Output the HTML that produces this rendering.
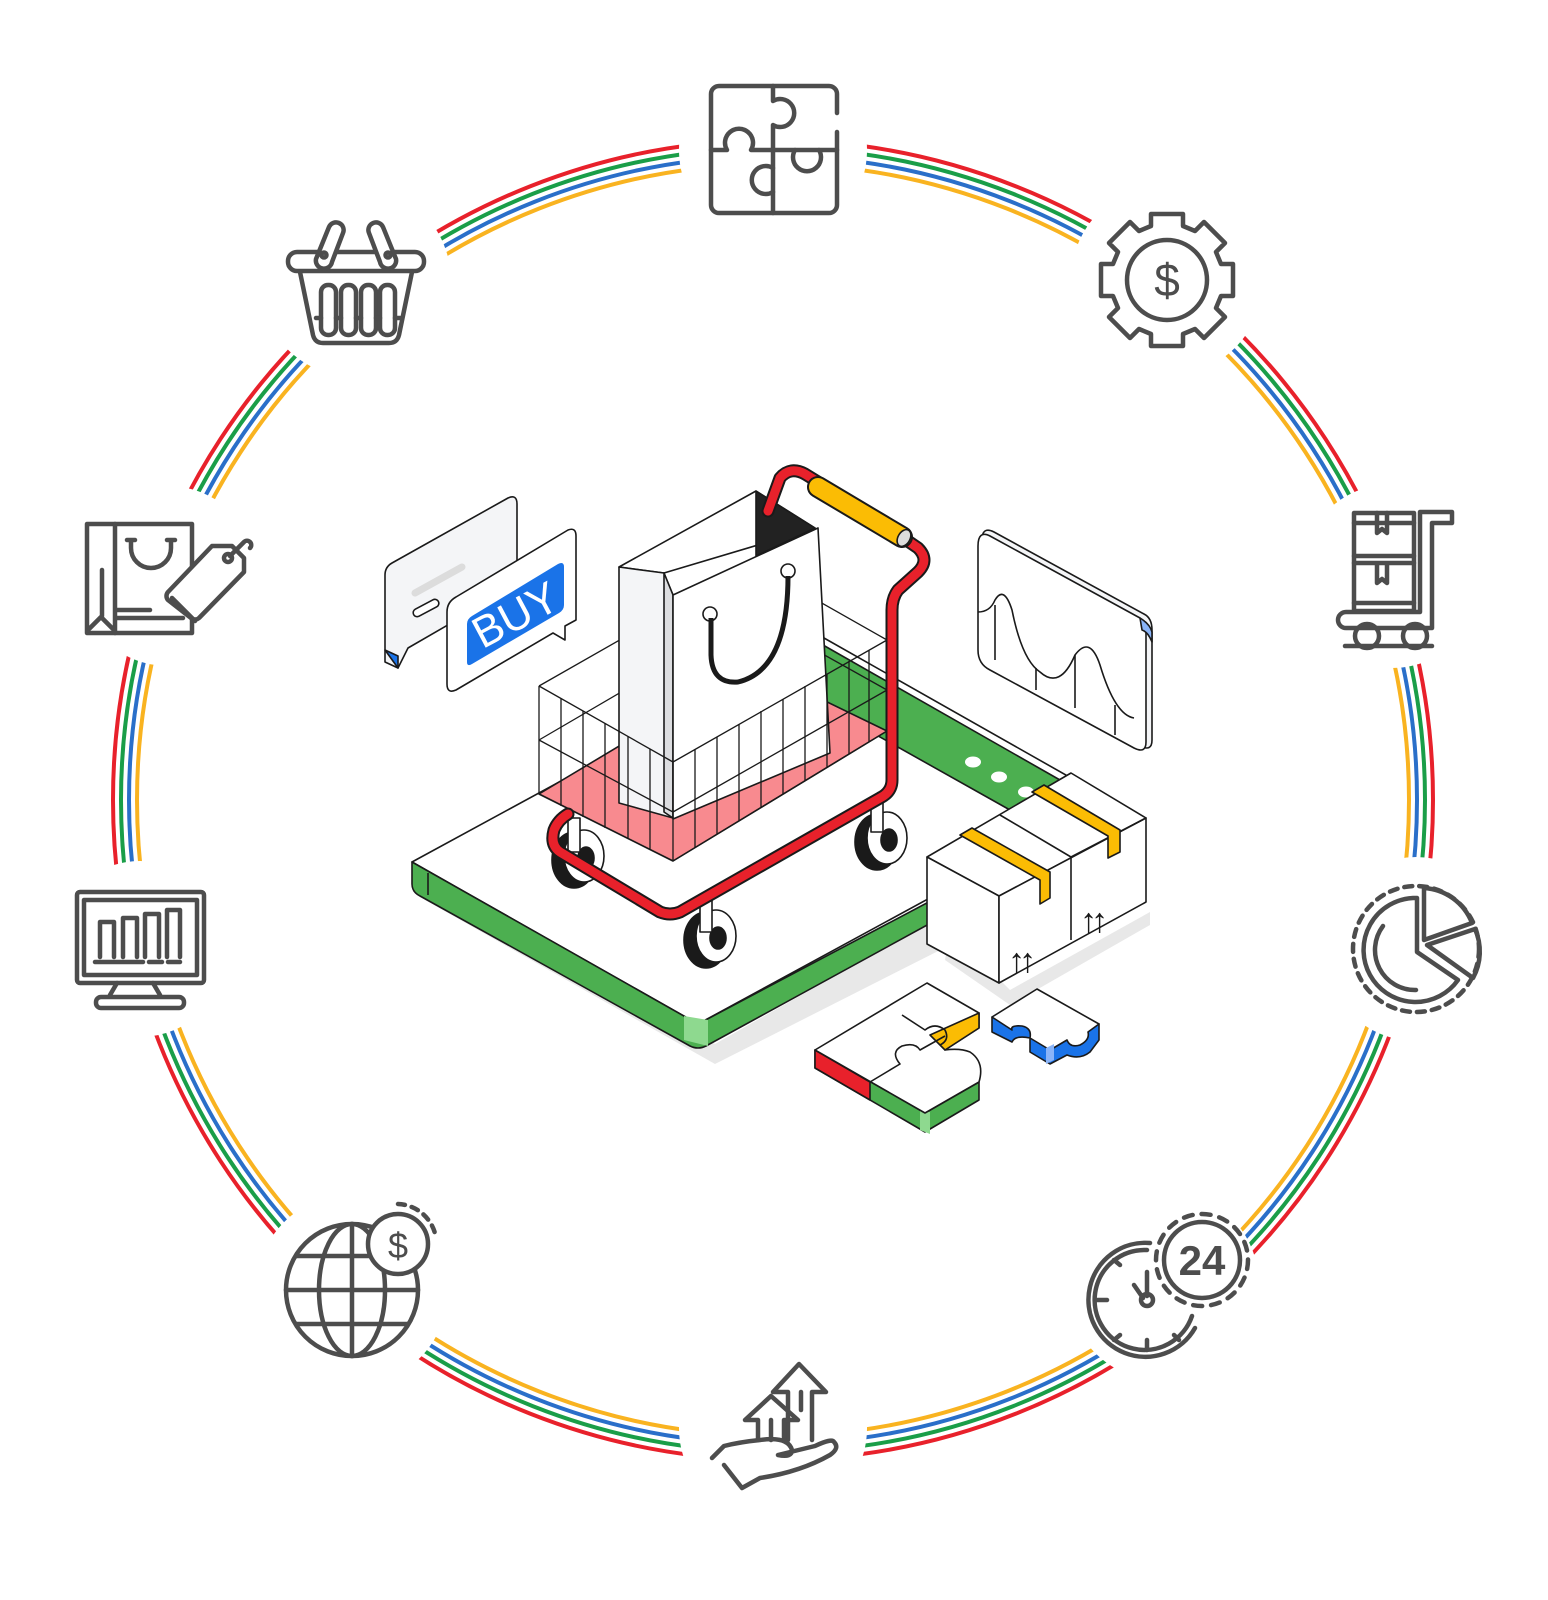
<!DOCTYPE html>
<html><head><meta charset="utf-8"><style>html,body{margin:0;padding:0;background:#fff}svg{display:block}</style></head>
<body>
<svg width="1548" height="1600" viewBox="0 0 1548 1600" xmlns="http://www.w3.org/2000/svg">
<rect width="1548" height="1600" fill="#fff"/>
<g fill="none" stroke-width="4">
<circle cx="773" cy="800" r="660" stroke="#e8212b"/>
<circle cx="773" cy="800" r="652" stroke="#1a9e48"/>
<circle cx="773" cy="800" r="644" stroke="#2a6fc9"/>
<circle cx="773" cy="800" r="636" stroke="#f9b320"/>
</g>
<g fill="#fff">
<circle cx="773" cy="150" r="94"/><circle cx="1167" cy="280" r="96"/><circle cx="1392" cy="576" r="92"/>
<circle cx="1416" cy="949" r="92"/><circle cx="1163" cy="1285" r="96"/><circle cx="773" cy="1428" r="94"/>
<circle cx="352" cy="1290" r="96"/><circle cx="140" cy="949" r="88"/><circle cx="168" cy="576" r="90"/><circle cx="355" cy="281" r="96"/>
</g>
<g fill="none" stroke="#4d4d4d" stroke-width="4.5" stroke-linecap="round" stroke-linejoin="round">
<path d="M837 113 V94 a8 8 0 0 0 -8 -8 H719 a8 8 0 0 0 -8 8 V205 a8 8 0 0 0 8 8 H829 a8 8 0 0 0 8 -8 V132"/>
<path d="M773 86 V101 a14 14 0 1 1 0 24 V213"/>
<path d="M711 150 H727 a14 14 0 1 1 24 0 H837"/>
<path d="M773 168 a14 14 0 1 0 0 24"/>
<path d="M795 150 a14 14 0 1 0 24 0"/>
<circle cx="1167" cy="280" r="40"/>
<g transform="translate(1167 280)">
<path d="M-16 -66 H16 V-54 L28 -49 L37 -58 L58 -37 L49 -28 L54 -16 H66 V16 H54 L49 28 L58 37 L37 58 L28 49 L16 54 V66 H-16 V54 L-28 49 L-37 58 L-58 37 L-49 28 L-54 16 H-66 V-16 H-54 L-49 -28 L-58 -37 L-37 -58 L-28 -49 L-16 -54 Z"/>
</g>
<rect x="1354" y="513" width="60" height="98"/>
<path d="M1354 523 H1414 M1354 556 H1414 M1354 563 H1414 M1354 603 H1414 M1377 513 V533 l5 -4 l5 4 V513 M1377 563 V583 l5 -4 l5 4 V563"/>
<path d="M1420 612 V512 H1452 V523 H1432 V628 H1346 a8 8 0 0 1 0 -16 H1420"/>
<circle cx="1367" cy="636" r="12"/><circle cx="1415" cy="636" r="12"/>
<path d="M1345 646 H1432"/>
<circle cx="1416" cy="949" r="63" stroke-dasharray="8 7"/>
<path d="M1417 898 V952 L1458 980 A52 52 0 1 1 1413 898 Z"/>
<path d="M1383 926 A40 40 0 0 0 1416 990"/>
<path d="M1424 888 V940 L1472 923 A55 55 0 0 0 1424 888 Z"/>
<path d="M1427 945 L1475 929 A55 55 0 0 1 1473 978 Z"/>
<path d="M1195 1328 A57 57 0 1 1 1150 1243"/>
<path d="M1192 1316 A50 50 0 1 1 1147 1250"/>
<path d="M1147 1272 V1296 M1134 1285 L1143 1298" />
<circle cx="1147" cy="1300" r="6"/>
<path d="M1147 1340 V1350 M1107 1300 H1097 M1120 1265 L1114 1260 M1174 1335 L1179 1340 M1120 1335 L1114 1340"/>
<circle cx="1202" cy="1260" r="38"/>
<circle cx="1202" cy="1260" r="46" stroke-dasharray="9 9"/>
<path d="M788 1440 V1392 H773 L799 1364 L826 1392 H812 V1440"/>
<path d="M801 1392 V1410"/>
<path d="M758 1440 V1420 H745 L771 1396 L798 1420 H784 V1440"/>
<path d="M771 1420 V1440"/>
<path d="M712 1458 L724 1446 Q740 1442 760 1440 Q788 1436 792 1450 Q792 1458 778 1455 M778 1455 L815 1446 Q832 1438 834 1442 Q840 1448 830 1455 Q800 1472 760 1478 L742 1488 L724 1465"/>
<circle cx="352" cy="1290" r="66"/>
<ellipse cx="352" cy="1290" rx="33" ry="66"/>
<path d="M352 1224 V1356 M286 1290 H418 M296 1256 H408 M296 1324 H408"/>
<circle cx="398" cy="1244" r="30" fill="#fff"/>
<path d="M398 1204 A40 40 0 0 1 436 1238" stroke-dasharray="7 7"/>
<rect x="77" y="892" width="127" height="91" rx="3"/>
<rect x="84" y="900" width="113" height="75"/>
<path d="M100 957 V922 H114 V957 M123 957 V918 H137 V957 M145 957 V914 H159 V957 M167 957 V910 H180 V957"/>
<path d="M95 962 H143 M149 962 H162 M168 962 H180 M156 962 H160"/>
<path d="M117 983 L110 995 M153 983 L160 995"/>
<rect x="96" y="997" width="88" height="11" rx="5"/>
<rect x="87" y="524" width="105" height="109"/>
<path d="M115 524 V633 M102 570 V616 M88 630 L101 617 L114 630 M117 610 H150 M117 618 H183"/>
<path d="M131 540 V548 a20 20 0 0 0 40 0 V540 M127 540 H135 M167 540 H175"/>
<path d="M168 592 L212 546 L232 546 L244 558 L244 572 L199 618 a6 6 0 0 1 -8 0 L168 600 a6 6 0 0 1 0 -8 Z" fill="#fff"/>
<path d="M172 598 L195 621"/>
<circle cx="228" cy="558" r="4"/>
<path d="M230 556 L244 542 a4 4 0 0 1 6 6"/>
<rect x="288" y="252" width="136" height="19" rx="9"/>
<path d="M300 272 L313 335 Q315 343 323 343 H389 Q397 343 399 335 L412 272"/>
<rect x="321" y="285" width="15" height="50" rx="7"/><rect x="341" y="285" width="15" height="50" rx="7"/>
<rect x="361" y="285" width="15" height="50" rx="7"/><rect x="380" y="285" width="15" height="50" rx="7"/>
<path d="M336 318 H341 M356 318 H361 M376 318 H380 M316 318 H321 M395 318 H400"/>
<path d="M316 259 L329 227 a7 7 0 0 1 14 6 L332 262 a8 8 0 0 1 -16 -3 Z" fill="#fff"/>
<path d="M396 259 L383 227 a7 7 0 0 0 -14 6 L380 262 a8 8 0 0 0 16 -3 Z" fill="#fff"/>
<circle cx="324" cy="255" r="2.5"/><circle cx="388" cy="255" r="2.5"/>
</g>
<g font-family="Liberation Sans, sans-serif" fill="#4d4d4d" text-anchor="middle">
<text x="1167" y="296" font-size="46">$</text>
<text x="1202" y="1275" font-size="42" font-weight="bold">24</text>
<text x="398" y="1258" font-size="36">$</text>
</g>

<g stroke="#1a1a1a" stroke-width="1.6" stroke-linejoin="round">
<path d="M425 880 L715 1044 L960 905 L960 940 L715 1064 L425 900 Z" fill="#e8e8e8" stroke="none"/>
<path d="M412 862 L698 1024 L1110 800 L824 638 Z" fill="#fff"/>
<path d="M412 862 V884 Q412 892 420 896 L690 1046 Q698 1050 706 1046 L940 918 V896 L698 1024 Z" fill="#4caf50"/>
<path d="M684 1016 L684 1040 L708 1046 L708 1020 Z" fill="#8ed98f" stroke="none"/>
<path d="M428 873 V895" />
<path d="M823 645 L1060 780 L1010 810 L823 705 Z" fill="#4caf50"/>
<g fill="#fff" stroke="none"><ellipse cx="973" cy="762" rx="8" ry="5.5"/><ellipse cx="999" cy="777" rx="8" ry="5.5"/><ellipse cx="1026" cy="792" rx="8" ry="5.5"/></g>
<path d="M385 575 Q385 567 392 563 L508 498 Q517 494 517 504 V585 L408 648 L398 668 L385 662 Z" fill="#f4f5f7"/>
<path d="M385 650 L398 656 L398 668 Z" fill="#1a73e8"/>
<path d="M415 593 L462 567" stroke="#dcdcdc" stroke-width="7" stroke-linecap="round"/>
<rect x="412" y="604" width="28" height="8" rx="4" transform="rotate(-28 426 608)" fill="#fff"/>
<path d="M447 612 Q447 602 456 597 L568 530 Q576 527 576 536 V620 L565 626 V640 L553 633 L456 690 Q447 694 447 684 Z" fill="#fff"/>
<path d="M467 624 Q467 619 472 616 L558 564 Q564 561 564 567 V605 Q564 610 559 613 L472 664 Q467 667 467 662 Z" fill="#1a73e8" stroke="none"/>
<text x="515" y="630" font-family="Liberation Sans, sans-serif" font-size="44" fill="#fff" stroke="none" text-anchor="middle" transform="rotate(-28 515 614)">BUY</text>
<path d="M982 540 Q982 526 994 532 L1144 614 Q1152 618 1152 630 V740 Q1152 752 1140 746 L994 666 Q982 660 982 648 Z" fill="#f4f5f7"/>
<path d="M978 546 Q978 530 990 536 L1140 618 Q1146 622 1146 634 V742 Q1146 754 1134 748 L990 670 Q978 664 978 650 Z" fill="#fff"/>
<path d="M1140 618 Q1150 624 1152 632 V642 Q1148 632 1142 630 Z" fill="#8ab4f8"/>
<path d="M978 612 Q990 612 995 600 Q1004 585 1012 610 Q1022 660 1040 672 Q1060 690 1075 655 Q1090 635 1100 665 Q1115 715 1134 718" fill="none"/>
<path d="M995 605 V660 M1036 668 V690 M1075 655 V708 M1115 705 V735" fill="none"/>
<path d="M539 794 L673 861 L887 731 L753 666 Z" fill="#f88a8f"/>
<g fill="none" stroke-width="1.3">
<path d="M539 686 L753 564 L887 640 M753 564 V666 M539 740 L753 615 L887 690"/>
</g>
<g>
<ellipse cx="574" cy="860" rx="22" ry="28" fill="#1a1a1a"/><ellipse cx="584" cy="856" rx="20" ry="26" fill="#fff"/>
<ellipse cx="877" cy="842" rx="22" ry="28" fill="#1a1a1a"/><ellipse cx="887" cy="838" rx="20" ry="26" fill="#fff"/>
<ellipse cx="706" cy="940" rx="22" ry="28" fill="#1a1a1a"/><ellipse cx="716" cy="936" rx="20" ry="26" fill="#fff"/>
<ellipse cx="586" cy="858" rx="8" ry="11" fill="#1a1a1a"/><ellipse cx="889" cy="840" rx="8" ry="11" fill="#1a1a1a"/><ellipse cx="718" cy="938" rx="8" ry="11" fill="#1a1a1a"/>
<rect x="568" y="818" width="12" height="34" fill="#fff"/><rect x="871" y="798" width="12" height="34" fill="#fff"/><rect x="700" y="898" width="12" height="34" fill="#fff"/>
</g>
<path d="M619 567 L756 491 L815 528 L664 573 Z" fill="#fff"/>
<path d="M756 491 L815 528 L756 556 Z" fill="#222"/>
<path d="M619 567 L664 573 L673 595 L673 818 L619 803 Z" fill="#f4f5f7"/>
<path d="M664 573 L673 595 L673 818 L664 812 Z" fill="#dcdde0"/>
<path d="M673 595 L818 528 L830 753 L673 819 Z" fill="#fff"/>
<ellipse cx="710" cy="614" rx="7" ry="7" fill="#fff"/><ellipse cx="788" cy="571" rx="7" ry="7" fill="#fff"/>
<path d="M711 618 V655 Q712 684 738 682 Q788 670 788 576" fill="none" stroke-width="5"/>
<g fill="none" stroke-width="1.3">
<path d="M539 686 L673 762 L887 640 M539 686 V794 L673 861 L887 731 V640 M673 762 V861 M539 740 L673 812 L887 690"/>
<path d="M561 698 V806 M583 711 V817 M605 723 V828 M628 736 V839 M650 749 V850"/>
<path d="M695 749 V848 M717 737 V834 M739 724 V821 M761 711 V808 M783 699 V794 M805 686 V781 M827 674 V768 M849 661 V754 M869 650 V742"/>
</g>
<path d="M768 511 L780 478 Q790 466 805 474 L818 482 M902 537 L918 548 Q930 560 918 572 L898 590 Q892 598 892 610 V780 Q892 792 880 798 L680 912 Q670 916 660 912 L560 852 Q550 845 554 830 Q558 820 568 814" fill="none" stroke="#1a1a1a" stroke-width="13" stroke-linecap="round"/>
<path d="M768 511 L780 478 Q790 466 805 474 L818 482 M902 537 L918 548 Q930 560 918 572 L898 590 Q892 598 892 610 V780 Q892 792 880 798 L680 912 Q670 916 660 912 L560 852 Q550 845 554 830 Q558 820 568 814" fill="none" stroke="#e8212b" stroke-width="9" stroke-linecap="round"/>
<path d="M818 487 L902 537" stroke="#1a1a1a" stroke-width="22" stroke-linecap="round"/>
<path d="M818 487 L902 537" stroke="#fbbc04" stroke-width="18" stroke-linecap="round"/>
<ellipse cx="904" cy="538" rx="6" ry="9" transform="rotate(30 904 538)" fill="#ddd"/>
<path d="M950 930 L1010 990 L1150 912 L1150 925 L1010 1005 L945 960 Z" fill="#e8e8e8" stroke="none"/>
<path d="M927 857 L1071 773 L1146 818 L999 896 Z" fill="#fff"/>
<path d="M927 857 L999 896 V983 L927 944 Z" fill="#fff"/>
<path d="M999 896 L1146 818 V902 L999 983 Z" fill="#fff"/>
<path d="M1071 857 V940 M1000 815 L1071 857 M1071 857 L1146 818" fill="none"/>
<path d="M960 835 L972 828 L1050 872 V898 L1040 904 V880 Z" fill="#fbbc04"/>
<path d="M1032 792 L1044 785 L1120 830 V852 L1108 858 V836 Z" fill="#fbbc04"/>
<text x="1019" y="972" font-family="Liberation Sans, sans-serif" font-size="34" font-weight="bold" fill="#1a1a1a" stroke="none" text-anchor="middle" letter-spacing="-6">↑↑</text>
<text x="1091" y="932" font-family="Liberation Sans, sans-serif" font-size="34" font-weight="bold" fill="#1a1a1a" stroke="none" text-anchor="middle" letter-spacing="-6">↑↑</text>
<path d="M815 1050 V1068 L925 1132 L979 1100 V1082 L925 1113 Z" fill="#4caf50"/>
<path d="M815 1050 V1068 L870 1100 V1082 Z" fill="#e8212b"/>
<path d="M920 1110 V1130 L930 1134 V1112 Z" fill="#8ed98f" stroke="none"/>
<path d="M815 1050 L927 983 L979 1013 V1028 L945 1050 Q960 1048 970 1052 Q985 1062 979 1082 L925 1113 Z" fill="#fff"/>
<path d="M930 1035 L979 1013 V1028 L945 1050 Z" fill="#fbbc04"/>
<path d="M870 1082 L900 1064 Q890 1052 902 1046 Q915 1042 920 1050 L945 1036 M902 1015 L925 1030 Q935 1022 945 1030 Q950 1040 940 1045" fill="none"/>
<path d="M992 1017 V1032 L1012 1042 Q1015 1035 1030 1038 V1052 L1050 1064 L1067 1055 Q1080 1060 1090 1052 L1099 1040 V1024 Z" fill="#1a73e8"/>
<path d="M992 1017 L1037 989 L1099 1024 L1088 1032 Q1090 1040 1080 1045 Q1070 1048 1067 1040 L1050 1050 L1030 1038 Q1032 1028 1022 1026 Q1010 1025 1012 1030 Z" fill="#fff"/>
<path d="M1046 1048 V1064 L1054 1060 V1044 Z" fill="#8ab4f8" stroke="none"/>
</g>
</svg>
</body></html>
